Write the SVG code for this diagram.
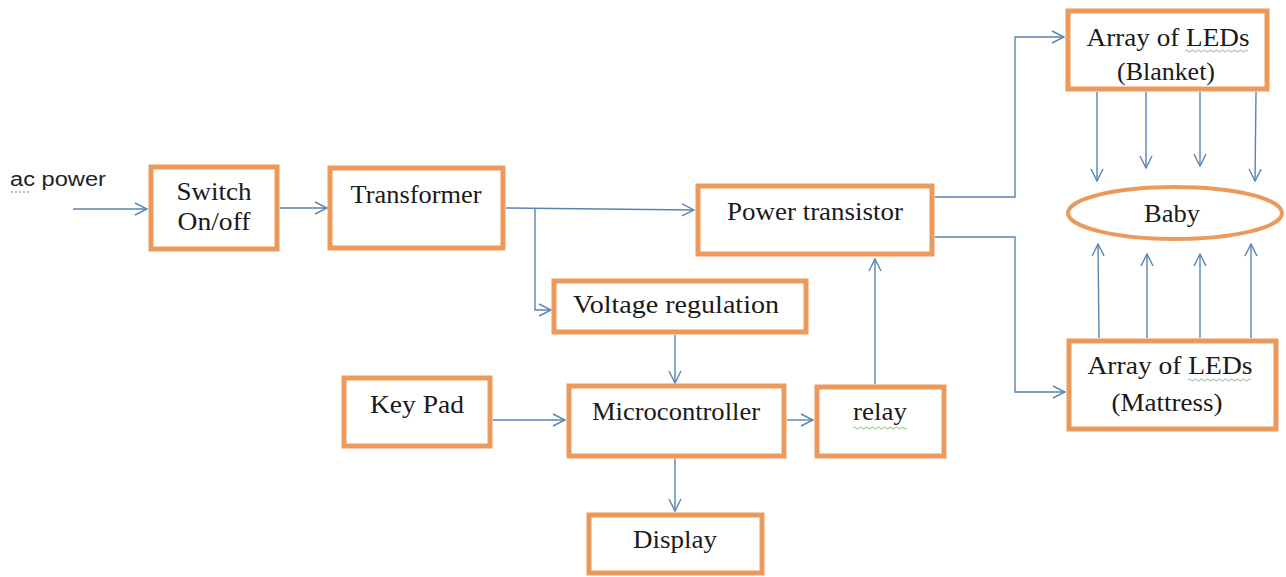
<svg xmlns="http://www.w3.org/2000/svg" width="1286" height="577" viewBox="0 0 1286 577">
<style>
.box{fill:#fff;stroke:#EC9A5C;stroke-width:5}
.t{font-family:"Liberation Serif","Times New Roman",serif;font-size:25px;fill:#1a1a1a;text-anchor:middle}
.s{font-family:"Liberation Sans",Arial,sans-serif;font-size:20px;fill:#222}
.c{fill:none;stroke:#5A84B0;stroke-width:1.4}
.sq{fill:none;stroke:#7FB77E;stroke-width:1}
</style>
<defs>
<marker id="a" viewBox="0 0 14 14" refX="13" refY="7" markerWidth="14" markerHeight="14" markerUnits="userSpaceOnUse" orient="auto">
<path d="M1,1 L13,7 L1,13" fill="none" stroke="#5A84B0" stroke-width="1.4"/>
</marker>
</defs>
<rect width="1286" height="577" fill="#fff"/>
<g id="connectors">
<path class="c" d="M73,209 H147" marker-end="url(#a)"/>
<path class="c" d="M280,208 H327" marker-end="url(#a)"/>
<path class="c" d="M506,208 L694,210" marker-end="url(#a)"/>
<path class="c" d="M535,208 V310 H551" marker-end="url(#a)"/>
<path class="c" d="M675,335 V383" marker-end="url(#a)"/>
<path class="c" d="M493,420 H565" marker-end="url(#a)"/>
<path class="c" d="M787,420 H813" marker-end="url(#a)"/>
<path class="c" d="M875,384 V259" marker-end="url(#a)"/>
<path class="c" d="M675,459 V511" marker-end="url(#a)"/>
<path class="c" d="M935,197 H1015 V37 H1064" marker-end="url(#a)"/>
<path class="c" d="M935,237 H1015 V392 H1065" marker-end="url(#a)"/>
<path class="c" d="M1097,92 V181" marker-end="url(#a)"/>
<path class="c" d="M1146,92 V168" marker-end="url(#a)"/>
<path class="c" d="M1200,92 V166" marker-end="url(#a)"/>
<path class="c" d="M1256,92 L1255,181" marker-end="url(#a)"/>
<path class="c" d="M1099,338 L1098,244" marker-end="url(#a)"/>
<path class="c" d="M1147,338 V254" marker-end="url(#a)"/>
<path class="c" d="M1200,338 V254" marker-end="url(#a)"/>
<path class="c" d="M1251,338 V244" marker-end="url(#a)"/>
</g>
<g id="acpower">
<text class="s" x="10" y="186" textLength="96" lengthAdjust="spacingAndGlyphs">ac power</text>
<path d="M11,192 H29" fill="none" stroke="#5A84B0" stroke-width="1" stroke-dasharray="2,2"/>
</g>
<g id="switch">
<rect class="box" x="151" y="167" width="126" height="82"/>
<text class="t" x="214" y="200" textLength="75" lengthAdjust="spacingAndGlyphs">Switch</text>
<text class="t" x="214" y="230" textLength="73" lengthAdjust="spacingAndGlyphs">On/off</text>
</g>
<g id="transformer">
<rect class="box" x="330" y="168" width="173" height="80"/>
<text class="t" x="416" y="203" textLength="131" lengthAdjust="spacingAndGlyphs">Transformer</text>
</g>
<g id="powertransistor">
<rect class="box" x="698" y="186" width="234" height="68"/>
<text class="t" x="815" y="220" textLength="176" lengthAdjust="spacingAndGlyphs">Power transistor</text>
</g>
<g id="voltageregulation">
<rect class="box" x="554" y="281" width="252" height="51"/>
<text class="t" x="676" y="313" textLength="206" lengthAdjust="spacingAndGlyphs">Voltage regulation</text>
</g>
<g id="keypad">
<rect class="box" x="344" y="378" width="146" height="68"/>
<text class="t" x="417" y="413" textLength="94" lengthAdjust="spacingAndGlyphs">Key Pad</text>
</g>
<g id="microcontroller">
<rect class="box" x="569" y="386" width="215" height="70"/>
<text class="t" x="676" y="420" textLength="168" lengthAdjust="spacingAndGlyphs">Microcontroller</text>
</g>
<g id="relay">
<rect class="box" x="817" y="387" width="127" height="69"/>
<text class="t" x="880" y="420" textLength="54" lengthAdjust="spacingAndGlyphs">relay</text>
<path class="sq" d="M853,428 q1.5,-2 3,0 t3,0 t3,0 t3,0 t3,0 t3,0 t3,0 t3,0 t3,0 t3,0 t3,0 t3,0 t3,0 t3,0 t3,0 t3,0 t3,0 t3,0"/>
</g>
<g id="display">
<rect class="box" x="589" y="515" width="173" height="58"/>
<text class="t" x="675" y="548" textLength="84" lengthAdjust="spacingAndGlyphs">Display</text>
</g>
<g id="ledsblanket">
<rect class="box" x="1068" y="11" width="199" height="78"/>
<text class="t" x="1168" y="46" textLength="163" lengthAdjust="spacingAndGlyphs">Array of LEDs</text>
<text class="t" x="1166" y="80" textLength="98" lengthAdjust="spacingAndGlyphs">(Blanket)</text>
<path class="sq" d="M1185,51 q1.5,-2 3,0 t3,0 t3,0 t3,0 t3,0 t3,0 t3,0 t3,0 t3,0 t3,0 t3,0 t3,0 t3,0 t3,0 t3,0 t3,0 t3,0 t3,0 t3,0 t3,0 t3,0"/>
</g>
<g id="baby">
<ellipse cx="1175" cy="213" rx="107" ry="26" fill="#fff" stroke="#EC9A5C" stroke-width="4"/>
<text class="t" x="1172" y="222" textLength="56" lengthAdjust="spacingAndGlyphs">Baby</text>
</g>
<g id="ledsmattress">
<rect class="box" x="1069" y="341" width="207" height="88"/>
<text class="t" x="1170" y="374" textLength="165" lengthAdjust="spacingAndGlyphs">Array of LEDs</text>
<text class="t" x="1167" y="411" textLength="111" lengthAdjust="spacingAndGlyphs">(Mattress)</text>
<path class="sq" d="M1188,380 q1.5,-2 3,0 t3,0 t3,0 t3,0 t3,0 t3,0 t3,0 t3,0 t3,0 t3,0 t3,0 t3,0 t3,0 t3,0 t3,0 t3,0 t3,0 t3,0 t3,0 t3,0 t3,0"/>
</g>
</svg>
